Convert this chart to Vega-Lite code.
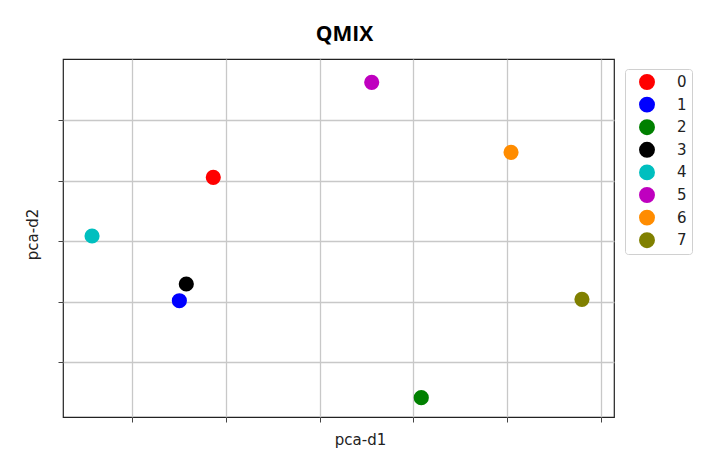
{
  "$schema": "https://vega.github.io/schema/vega-lite/v6.json",
  "autosize": "none",
  "width": 551,
  "height": 358,
  "padding": {"left": 63, "top": 59, "right": 92, "bottom": 39},
  "background": "white",
  "title": {"text": "QMIX", "font": "Open Sans", "fontSize": 21, "fontWeight": "bold", "color": "#000000", "anchor": "middle", "dx": 6, "offset": 14},
  "config": {
    "view": {"stroke": "#222222", "strokeWidth": 1.2},
    "axis": {"grid": true, "gridColor": "#c8c8c8", "gridWidth": 1.3, "domain": false, "labels": false, "ticks": true, "tickColor": "#444444", "tickSize": 5, "titleFont": "DejaVu Sans", "titleFontSize": 15, "titleFontWeight": "normal", "titleColor": "#222222"}
  },
  "data": {
    "values": [
      {"agent": "0", "x": 1.864, "y": 4.054},
      {"agent": "1", "x": 1.502, "y": 2.018},
      {"agent": "2", "x": 4.084, "y": 0.418},
      {"agent": "3", "x": 1.576, "y": 2.294},
      {"agent": "4", "x": 0.570, "y": 3.086},
      {"agent": "5", "x": 3.555, "y": 5.622},
      {"agent": "6", "x": 5.042, "y": 4.467},
      {"agent": "7", "x": 5.799, "y": 2.041}
    ]
  },
  "mark": {"type": "circle", "size": 230, "opacity": 1},
  "encoding": {
    "x": {"field": "x", "type": "quantitative", "scale": {"domain": [0.26, 6.141], "nice": false, "zero": false}, "axis": {"values": [1, 2, 3, 4, 5, 6], "title": "pca-d1", "titleX": 297, "titleY": 22, "titleBaseline": "middle", "titleAnchor": "middle"}},
    "y": {"field": "y", "type": "quantitative", "scale": {"domain": [0.099, 6.007], "nice": false, "zero": false}, "axis": {"values": [1, 2, 3, 4, 5], "title": "pca-d2", "titleX": -31, "titleY": 175, "titleBaseline": "middle", "titleAnchor": "middle"}},
    "color": {"field": "agent", "type": "nominal", "scale": {"domain": ["0","1","2","3","4","5","6","7"], "range": ["#ff0000", "#0000ff", "#008000", "#000000", "#00bfbf", "#bf00bf", "#ff8c00", "#808000"]},
      "legend": {"title": null, "orient": "none", "legendX": 562, "legendY": 10, "padding": 5, "symbolSize": 254, "symbolType": "circle", "symbolOffset": 9, "labelOffset": 22, "labelFont": "DejaVu Sans", "labelFontSize": 15, "labelColor": "#222222", "rowPadding": 6.6, "strokeColor": "#d0d0d0", "cornerRadius": 3, "fillColor": "white", "symbolStrokeWidth": 0, "symbolOpacity": 1}}
  }
}
